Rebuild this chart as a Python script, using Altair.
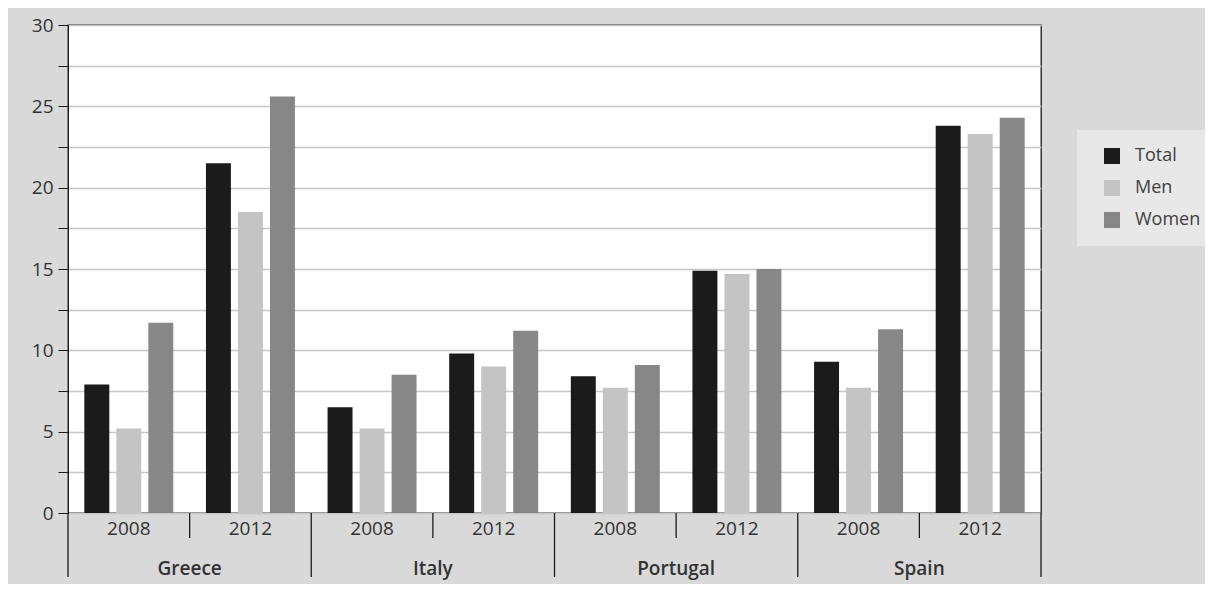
import altair as alt
import pandas as pd

countries = ["Greece", "Italy", "Portugal", "Spain"]
years = ["2008", "2012"]
series = ["Total", "Men", "Women"]
colors = ["#1b1b1b", "#c4c4c4", "#878787"]

# values in order Greece 2008, Greece 2012, Italy 2008, ...
total = [7.9, 21.5, 6.5, 9.8, 8.4, 14.9, 9.3, 23.8]
men = [5.2, 18.5, 5.2, 9.0, 7.7, 14.7, 7.7, 23.3]
women = [11.7, 25.6, 8.5, 11.2, 9.1, 15.0, 11.3, 24.3]

keys = [f"{c} {y}" for c in countries for y in years]
rows = []
for s, vals in zip(series, [total, men, women]):
    for k, v in zip(keys, vals):
        rows.append({"key": k, "series": s, "value": v})
df = pd.DataFrame(rows)

year_df = pd.DataFrame({"key": keys, "year": [y for c in countries for y in years]})
country_df = pd.DataFrame({"key": [f"{c} {years[0]}" for c in countries], "country": countries})
short_df = pd.DataFrame({"key": [f"{c} {years[1]}" for c in countries]})
long_df = pd.DataFrame({"key": [f"{c} {years[0]}" for c in countries]})
end_df = pd.DataFrame({"key": [keys[-1]]})

FONT = "Open Sans"
W, H = 973, 488

xscale = alt.Scale(domain=keys, paddingInner=0, paddingOuter=0)

bars = alt.Chart(df).mark_bar().encode(
    x=alt.X("key:N", scale=xscale, axis=None, sort=keys),
    xOffset=alt.XOffset("series:N", sort=series,
                        scale=alt.Scale(domain=series, paddingInner=0.22, paddingOuter=0.51)),
    y=alt.Y("value:Q", scale=alt.Scale(domain=[0, 30], nice=False),
            axis=alt.Axis(values=[i * 2.5 for i in range(13)],
                          labelExpr="datum.value % 5 == 0 ? format(datum.value, 'd') : ''",
                          title=None, grid=True, gridColor="#c6c6c6", gridWidth=1.3,
                          domainColor="#1b1b1b", tickColor="#1b1b1b", tickSize=10,
                          labelFontSize=19, labelColor="#333333", labelFont=FONT,
                          labelPadding=5)),
    color=alt.Color("series:N", sort=series,
                    scale=alt.Scale(domain=series, range=colors),
                    legend=alt.Legend(title=None, orient="none", legendX=1009, legendY=105,
                                      fillColor="#e8e8e8", padding=17, symbolType="square",
                                      symbolSize=256, symbolOffset=9, labelOffset=14,
                                      rowPadding=14, labelFontSize=18, labelFont=FONT,
                                      labelColor="#404040", symbolStrokeWidth=0)),
)

year_text = alt.Chart(year_df).mark_text(
    font=FONT, fontSize=19, color="#333333", baseline="middle"
).encode(
    x=alt.X("key:N", scale=xscale, axis=None, sort=keys),
    y=alt.value(H + 16),
    text="year:N",
)

country_text = alt.Chart(country_df).mark_text(
    font=FONT, fontSize=19, fontWeight=600, color="#333333", baseline="middle"
).encode(
    x=alt.X("key:N", scale=xscale, axis=None, sort=keys, bandPosition=1),
    y=alt.value(H + 56),
    text="country:N",
)

short_rules = alt.Chart(short_df).mark_rule(color="#1b1b1b", strokeWidth=1.3).encode(
    x=alt.X("key:N", scale=xscale, axis=None, sort=keys, bandPosition=0),
    y=alt.value(H),
    y2=alt.value(H + 25),
)

long_rules = alt.Chart(long_df).mark_rule(color="#1b1b1b", strokeWidth=1.3).encode(
    x=alt.X("key:N", scale=xscale, axis=None, sort=keys, bandPosition=0),
    y=alt.value(H),
    y2=alt.value(H + 64),
)

end_rule = alt.Chart(end_df).mark_rule(color="#1b1b1b", strokeWidth=1.3).encode(
    x=alt.X("key:N", scale=xscale, axis=None, sort=keys, bandPosition=1),
    y=alt.value(H),
    y2=alt.value(H + 64),
)

chart = alt.layer(bars, year_text, country_text, short_rules, long_rules, end_rule).properties(
    width=W, height=H,
    autosize=alt.AutoSizeParams(type="none"),
    padding={"left": 60, "top": 17, "right": 164, "bottom": 71},
    background="#d9d9d9",
).configure_view(
    fill="white", stroke="#1b1b1b", strokeWidth=1.3
)

chart.save("out.html", embed_options={"renderer": "svg", "actions": False})
